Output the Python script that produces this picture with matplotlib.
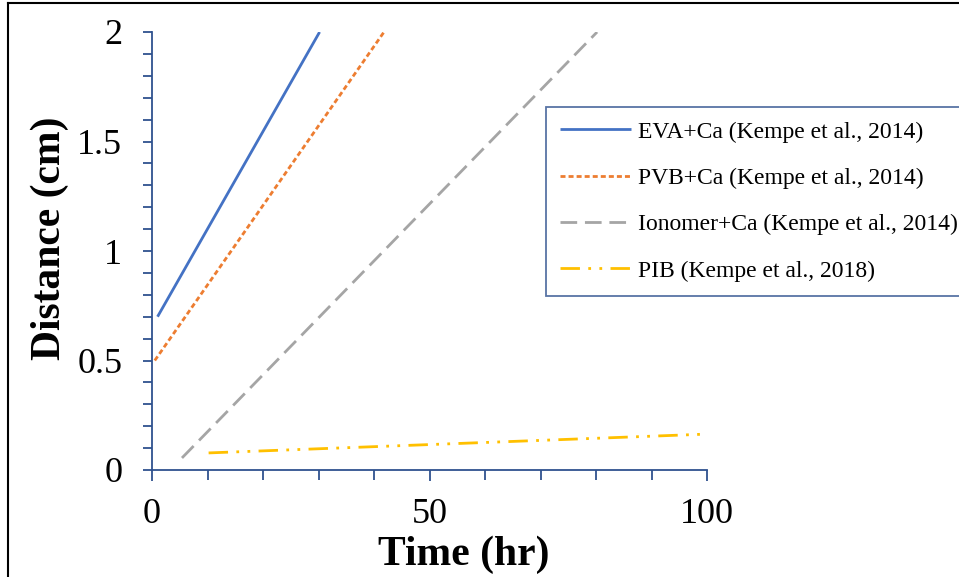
import numpy as np
import matplotlib
matplotlib.use("Agg")
import matplotlib.pyplot as plt
from matplotlib.lines import Line2D
from matplotlib.ticker import MultipleLocator, FixedLocator

plt.rcParams['font.family'] = ['Liberation Serif', 'DejaVu Serif']

# series: start and end points
labels = ["EVA+Ca (Kempe et al., 2014)",
          "PVB+Ca (Kempe et al., 2014)",
          "Ionomer+Ca (Kempe et al., 2014)",
          "PIB (Kempe et al., 2018)"]
eva_x = [1.0, 30.2]
eva_y = [0.70, 2.0]
pvb_x = [0.5, 41.8]
pvb_y = [0.50, 2.0]
iono_x = [5.4, 80.2]
iono_y = [0.055, 2.0]
pib_x = [10.2, 100.0]
pib_y = [0.078, 0.164]

axis_col = "#2F528F"

fig = plt.figure(figsize=(9.59, 5.77), dpi=100)
ax = fig.add_axes([152/959, 1 - 470/577, 555/959, 438/577])

lw = 2.0
ax.plot(eva_x, eva_y, color="#4472C4", lw=lw, solid_capstyle="butt", label=labels[0])
ax.plot(pvb_x, pvb_y, color="#ED7D31", lw=lw, linestyle=(0, (1.8, 1.1)),
        dash_capstyle="butt", label=labels[1])
ax.plot(iono_x, iono_y, color="#A5A5A5", lw=lw, linestyle=(0, (6.0, 2.8)),
        dash_capstyle="butt", label=labels[2])
ax.plot(pib_x, pib_y, color="#FFC000", lw=lw, linestyle=(0, (7, 3, 1, 3, 1, 3)),
        dash_capstyle="butt", label=labels[3])

ax.set_xlim(0, 100)
ax.set_ylim(0, 2)

for s in ["top", "right"]:
    ax.spines[s].set_visible(False)
for s in ["left", "bottom"]:
    ax.spines[s].set_color(axis_col)
    ax.spines[s].set_linewidth(1.3)

ax.xaxis.set_major_locator(FixedLocator([0, 50, 100]))
ax.xaxis.set_minor_locator(MultipleLocator(10))
ax.set_yticks([0, 0.5, 1, 1.5, 2])
ax.set_yticklabels(["0", "0.5", "1", "1.5", "2"])
ax.yaxis.set_minor_locator(MultipleLocator(0.1))

ax.tick_params(axis="x", which="major", direction="out", length=8, width=1.3,
               color=axis_col, labelsize=26, pad=12)
ax.tick_params(axis="x", which="minor", direction="out", length=7, width=1.3,
               color=axis_col)
ax.tick_params(axis="y", which="both", direction="out", length=6.5, width=1.3,
               color=axis_col, labelsize=26, pad=15)

ax.set_xlabel("Time (hr)", fontsize=30, fontweight="bold")
ax.set_ylabel("Distance (cm)", fontsize=30, fontweight="bold")
ax.xaxis.set_label_coords(0.562, -0.15)
ax.yaxis.set_label_coords(-0.15, 0.53)

leg = ax.legend(loc="upper left", bbox_to_anchor=(546/959, 1 - 107/577),
                bbox_transform=fig.transFigure, fontsize=17, frameon=True,
                fancybox=False, handlelength=3.0, handletextpad=0.3,
                labelspacing=1.05, borderpad=0.6, borderaxespad=0)
leg.get_frame().set_edgecolor(axis_col)
leg.get_frame().set_linewidth(1.3)

# outer border lines of the original image
fig.add_artist(Line2D([8/959, 8/959], [0, 1 - 3/577], color="black", lw=1.5,
                      transform=fig.transFigure))
fig.add_artist(Line2D([8/959, 1], [1 - 3/577, 1 - 3/577], color="black", lw=1.5,
                      transform=fig.transFigure))

fig.savefig("out.png", dpi=100)
